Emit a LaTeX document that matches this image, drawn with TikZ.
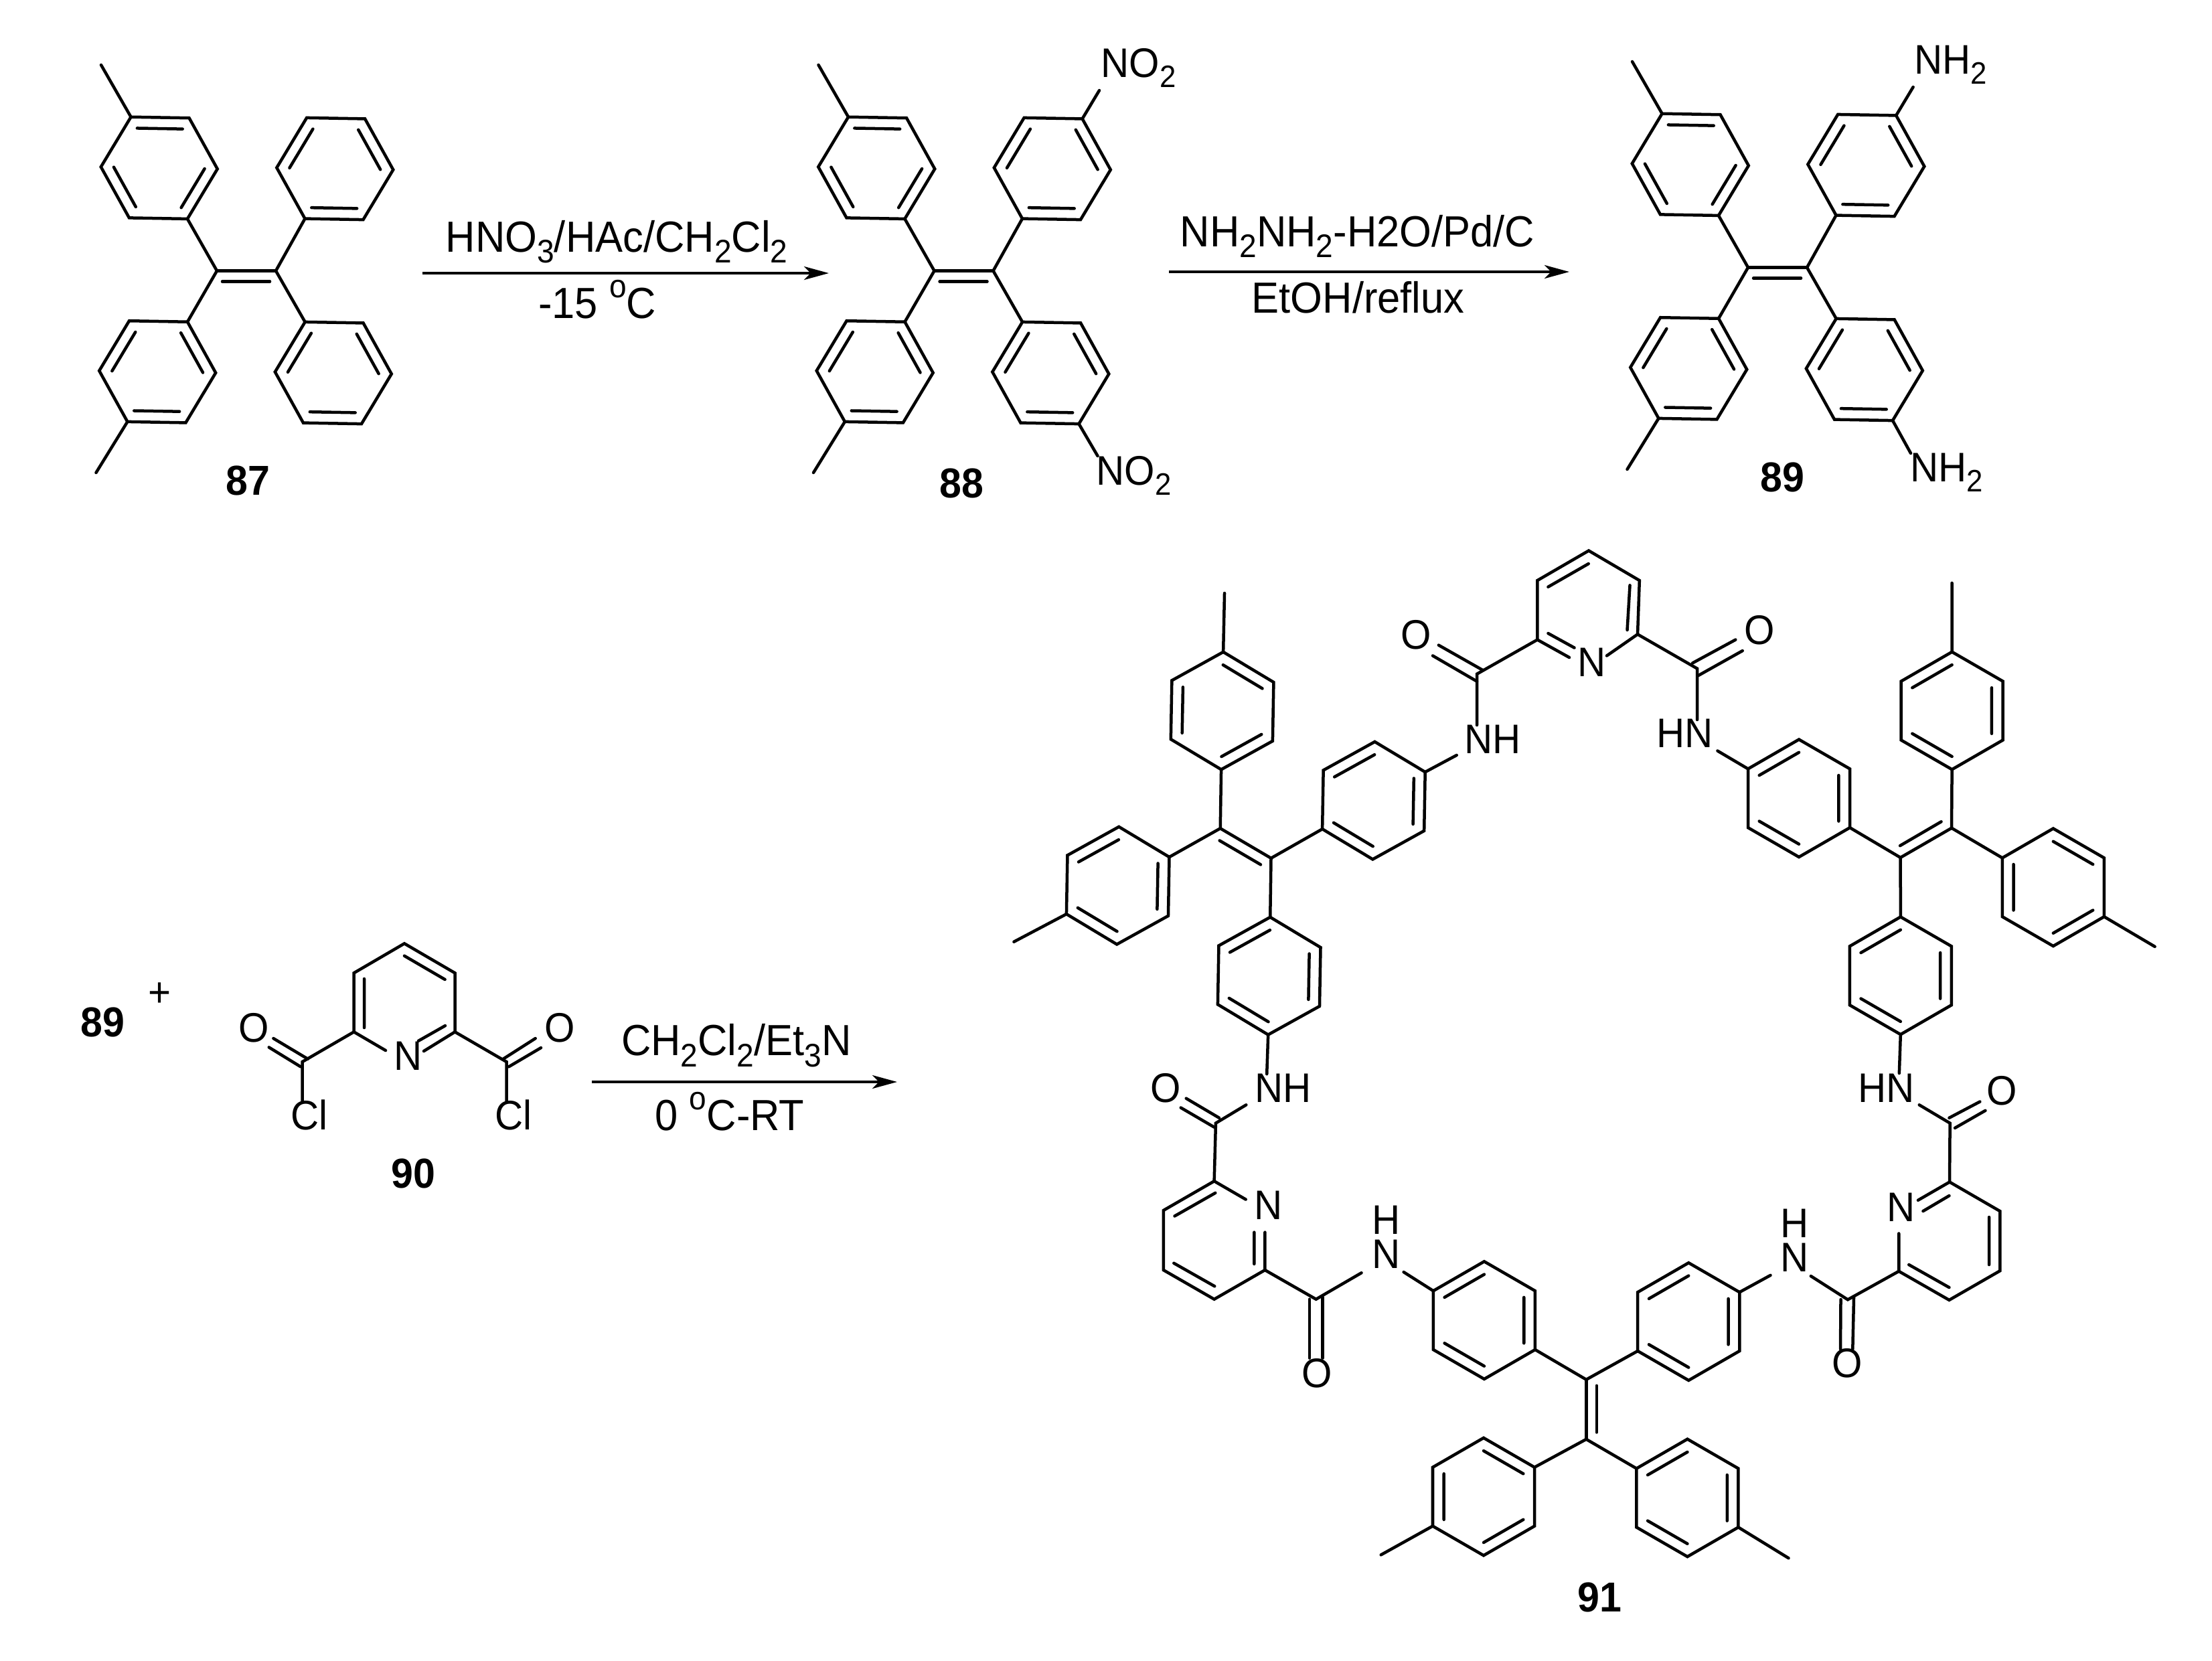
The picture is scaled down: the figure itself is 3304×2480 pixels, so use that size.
\documentclass[tikz,border=0pt]{standalone}
\usepackage{fontspec}
\usepackage{graphicx}
\setmainfont[FakeStretch=0.945]{Liberation Sans}
\usetikzlibrary{arrows.meta}
\newcommand\sbs[1]{\raisebox{-.25em}{\scalebox{.75}{#1}}}
\newcommand\dgr{\raisebox{.47em}{\scalebox{.75}{o}}}
\tikzset{
  bond/.style={line width=.045cm,line cap=round,line join=miter},
  rxnline/.style={line width=.045cm,-{Stealth[length=.37cm,width=.2cm,inset=.1cm]}},
  lab/.style={anchor=base west,inner sep=0pt,font=\fontsize{17.55pt}{20pt}\selectfont},
  stack/.style={anchor=south west,inner sep=0pt,align=center,font=\fontsize{17.55pt}{14.6pt}\selectfont},
  rxntxt/.style={anchor=base west,inner sep=0pt,font=\fontsize{18.5pt}{21pt}\selectfont},
  num/.style={anchor=base west,inner sep=0pt,font=\fontsize{17.78pt}{21pt}\selectfont\bfseries}
}
% name cx cy R rot phase
\newcommand\ring[6]{%
  \foreach \k in {1,...,6}{%
    \coordinate (#1\k) at ({#2+#4*cos(#5+60*(\k-1))},{#3+#4*sin(#5+60*(\k-1))});
    \coordinate (#1i\k) at ({#2+.78*#4*cos(#5+60*(\k-1))},{#3+.78*#4*sin(#5+60*(\k-1))});
  }
  \draw[bond] (#11)--(#12)--(#13)--(#14)--(#15)--(#16)--cycle;
  \ifnum#6=1
    \draw[bond] (#1i1)--(#1i2) (#1i3)--(#1i4) (#1i5)--(#1i6);
  \else
    \draw[bond] (#1i2)--(#1i3) (#1i4)--(#1i5) (#1i6)--(#1i1);
  \fi
}
\newcommand\TPE[1]{%
  \ring{#1A}{237.75}{250.8}{87}{1}{1}
  \ring{#1B}{235.2}{555.3}{87}{1}{2}
  \ring{#1C}{500.3}{252}{87}{1}{2}
  \ring{#1D}{497.8}{557}{87}{1}{2}
  \coordinate (#1L) at (324,404.5);
  \coordinate (#1R) at (412,404.5);
  \coordinate (#1Li) at (332,420.5);
  \coordinate (#1Ri) at (403,420.5);
  \coordinate (#1Ma) at (151,97);
  \coordinate (#1Mb) at (143.5,706);
  \draw[bond] (#1L)--(#1R) (#1Li)--(#1Ri);
  \draw[bond] (#1A2)--(#1L)--(#1B6) (#1C3)--(#1R)--(#1D5);
  \draw[bond] (#1A5)--(#1Ma) (#1B3)--(#1Mb);
}
\begin{document}
\begin{tikzpicture}[x=.01cm,y=-.01cm]
\useasboundingbox (0,0) rectangle (3304,2480);
\fill[white] (0,0) rectangle (3304,2480);

% ---------- 87
\TPE{m}
\node[num] (n87) at (337,739) {87};

% ---------- arrow 1
\coordinate (a1s) at (631,408);
\coordinate (a1e) at (1238,408);
\draw[rxnline] (a1s)--(a1e);
\node[rxntxt] (t1a) at (665,376) {HNO\sbs{3}/HAc/CH\sbs{2}Cl\sbs{2}};
\node[rxntxt] (t1b) at (803.6,475) {-15 \dgr C};

% ---------- 88
\begin{scope}[shift={(1071.5,0)}]
  \TPE{n}
  \coordinate (nNu) at (570.5,135);
  \coordinate (nNd) at (568,681);
  \draw[bond] (nC6)--(nNu) (nD2)--(nNd);
\end{scope}
\node[lab] (no2a) at (1644,115) {NO\sbs{2}};
\node[lab] (no2b) at (1637,724) {NO\sbs{2}};
\node[num] (n88) at (1403,743) {88};

% ---------- arrow 2
\coordinate (a2s) at (1746,406);
\coordinate (a2e) at (2344,406);
\draw[rxnline] (a2s)--(a2e);
\node[rxntxt] (t2a) at (1762,368) {NH\sbs{2}NH\sbs{2}-H2O/Pd/C};
\node[rxntxt] (t2b) at (1869,467) {EtOH/reflux};

% ---------- 89
\begin{scope}[shift={(2287,-5)}]
  \TPE{o}
  \coordinate (oNu) at (570.6,135);
  \coordinate (oNd) at (567,682);
  \draw[bond] (oC6)--(oNu) (oD2)--(oNd);
\end{scope}
\node[lab] (nh2a) at (2859,110) {NH\sbs{2}};
\node[lab] (nh2b) at (2852.4,719.4) {NH\sbs{2}};
\node[num] (n89a) at (2629,734) {89};

% ---------- 89 + 90
\node[num] (n89b) at (120,1548) {89};
\node[inner sep=0pt,font=\fontsize{17.55pt}{20pt}\selectfont] (plus) at (238.4,1486) {+};
\coordinate (pa) at (528.6,1541.3);
\coordinate (pb) at (528.6,1453.3);
\coordinate (pc) at (604,1409.3);
\coordinate (pd) at (679.5,1453.3);
\coordinate (pe) at (679.5,1541.3);
\draw[bond] (pa)--(pb)--(pc)--(pd)--(pe);
\coordinate (pin1) at (544,1462);
\coordinate (pin2) at (544,1535);
\coordinate (pin3) at (604,1427.7);
\coordinate (pin4) at (664.6,1463);
\draw[bond] (pin1)--(pin2) (pin3)--(pin4);
\coordinate (pN1) at (576,1569);
\coordinate (pN2) at (633,1570);
\coordinate (pN3) at (665,1532);
\coordinate (pN4) at (625,1554.7);
\draw[bond] (pa)--(pN1) (pe)--(pN2) (pN3)--(pN4);
\node[lab] (pNN) at (587.5,1598) {N};
\coordinate (cl) at (451.5,1586);
\coordinate (cr) at (756.6,1586);
\coordinate (clc) at (451.5,1645);
\coordinate (crc) at (756.6,1645);
\draw[bond] (pa)--(cl)--(clc) (pe)--(cr)--(crc);
\coordinate (ol1) at (408.4,1551);
\coordinate (ol2) at (459.8,1581.7);
\coordinate (ol3) at (401.7,1564.3);
\coordinate (ol4) at (449,1593.3);
\coordinate (or1) at (799.7,1551);
\coordinate (or2) at (751.6,1581.7);
\coordinate (or3) at (808,1565);
\coordinate (or4) at (760,1593.3);
\draw[bond] (ol1)--(ol2) (ol3)--(ol4) (or1)--(or2) (or3)--(or4);
\node[lab] (oL) at (356,1556) {O};
\node[lab] (oR) at (813,1556) {O};
\node[lab] (clL) at (434,1687) {Cl};
\node[lab] (clR) at (739,1687) {Cl};
\node[num] (n90) at (584,1774) {90};

% ---------- arrow 3
\coordinate (a3s) at (884,1616);
\coordinate (a3e) at (1340,1616);
\draw[rxnline] (a3s)--(a3e);
\node[rxntxt] (t3a) at (927.4,1576.7) {CH\sbs{2}Cl\sbs{2}/Et\sbs{3}N};
\node[rxntxt] (t3b) at (978,1688) {0 \dgr C-RT};

% ---------- 91 left TPE
\ring{T1}{1825.6}{1061.6}{87.8}{31}{1}
\ring{L1}{1669.7}{1322.7}{87.8}{31}{2}
\ring{R1}{2051.9}{1195.7}{87.8}{31}{2}
\ring{B1}{1895.7}{1457.7}{87.8}{31}{2}
\coordinate (Ca) at (1822.7,1237.3);
\coordinate (Cb) at (1898.5,1281.8);
\coordinate (Cai) at (1821.6,1255.5);
\coordinate (Cbi) at (1883,1291.4);
\draw[bond] (Ca)--(Cb) (Cai)--(Cbi);
\draw[bond] (T12)--(Ca)--(L16) (R13)--(Cb)--(B15);
\coordinate (mT1) at (1829,886);
\coordinate (mL1) at (1514.4,1406.7);
\draw[bond] (T15)--(mT1) (L13)--(mL1);

% ---------- 91 right TPE
\ring{T2}{2915.6}{1061.5}{87.8}{30}{2}
\ring{R2}{3066.8}{1325.3}{87.8}{30}{1}
\ring{L2}{2687}{1192.3}{87.8}{30}{2}
\ring{B2}{2838.8}{1457.3}{87.8}{30}{2}
\coordinate (Cc) at (2838.6,1280.9);
\coordinate (Cd) at (2915,1236.8);
\coordinate (Cci) at (2838,1263.2);
\coordinate (Cdi) at (2899.5,1227.3);
\draw[bond] (Cc)--(Cd) (Cci)--(Cdi);
\draw[bond] (L21)--(Cc)--(B25) (T22)--(Cd)--(R24);
\coordinate (mT2) at (2915.5,870.8);
\coordinate (mR2) at (3218.6,1413.9);
\draw[bond] (T25)--(mT2) (R21)--(mR2);

% ---------- 91 bottom TPE
\ring{P1}{2216.9}{1972}{87.8}{30}{2}
\ring{P2}{2522.2}{1974}{87.8}{30}{2}
\ring{Q1}{2216}{2235.5}{87.8}{30}{1}
\ring{Q2}{2520.4}{2237.3}{87.8}{30}{2}
\coordinate (Ce) at (2369.3,2060.6);
\coordinate (Cf) at (2369.3,2149.7);
\coordinate (Cei) at (2384.8,2069.7);
\coordinate (Cfi) at (2384.8,2139.4);
\draw[bond] (Ce)--(Cf) (Cei)--(Cfi);
\draw[bond] (P11)--(Ce)--(P23) (Q16)--(Cf)--(Q24);
\coordinate (mQ1) at (2062.7,2322.4);
\coordinate (mQ2) at (2671.5,2327.3);
\draw[bond] (Q13)--(mQ1) (Q21)--(mQ2);

% ---------- top pyridine
\coordinate (ta) at (2296.3,955.5);
\coordinate (tb) at (2296.3,867);
\coordinate (tc) at (2373,822.5);
\coordinate (td) at (2448.8,867);
\coordinate (te) at (2446,947.4);
\draw[bond] (ta)--(tb)--(tc)--(td)--(te);
\coordinate (ti1) at (2312.4,876.6);
\coordinate (ti2) at (2372.7,842);
\coordinate (ti3) at (2434.5,874.2);
\coordinate (ti4) at (2430.5,941);
\draw[bond] (ti1)--(ti2) (ti3)--(ti4);
\coordinate (tn1) at (2344,982);
\coordinate (tn2) at (2312.4,946);
\coordinate (tn3) at (2351.5,967.5);
\coordinate (tn4) at (2400,979.4);
\draw[bond] (ta)--(tn1) (tn2)--(tn3) (te)--(tn4);
\node[lab] (tN) at (2355.8,1010.5) {N};
% left amide
\coordinate (c1) at (2206,1006.7);
\coordinate (c1n) at (2206,1083);
\coordinate (n1b) at (2175.7,1128);
\draw[bond] (ta)--(c1)--(c1n) (R16)--(n1b);
\coordinate (o1a) at (2148.8,963.6);
\coordinate (o1b) at (2214.8,1001);
\coordinate (o1c) at (2140,979.4);
\coordinate (o1d) at (2206,1017.7);
\draw[bond] (o1a)--(o1b) (o1c)--(o1d);
\node[lab] (O1) at (2092,969) {O};
\node[lab] (NH1) at (2187,1125) {NH};
% right amide
\coordinate (c2) at (2535,998.6);
\coordinate (c2n) at (2535,1075);
\coordinate (n2b) at (2565.4,1121.5);
\draw[bond] (te)--(c2)--(c2n) (L24)--(n2b);
\coordinate (o2a) at (2528,990.4);
\coordinate (o2b) at (2592.3,955.5);
\coordinate (o2c) at (2536.7,1009);
\coordinate (o2d) at (2602.7,972);
\draw[bond] (o2a)--(o2b) (o2c)--(o2d);
\node[lab] (O2) at (2604.4,962) {O};
\node[lab] (NH2) at (2473.5,1116.8) {HN};

% ---------- lower-left pyridine
\coordinate (la) at (1813.6,1764.2);
\coordinate (lb) at (1737.8,1807.9);
\coordinate (lc) at (1737.8,1897);
\coordinate (ld) at (1813.6,1940.6);
\coordinate (le) at (1889.4,1897);
\draw[bond] (la)--(lb)--(lc)--(ld)--(le);
\coordinate (li1) at (1815.3,1781.8);
\coordinate (li2) at (1754.5,1816.4);
\coordinate (li3) at (1753.3,1886.7);
\coordinate (li4) at (1814.2,1921.2);
\draw[bond] (li1)--(li2) (li3)--(li4);
\coordinate (ln1) at (1860.7,1791.5);
\coordinate (ln2) at (1889.4,1840.6);
\coordinate (ln3) at (1873.3,1887.9);
\coordinate (ln4) at (1873.3,1840.6);
\draw[bond] (la)--(ln1) (le)--(ln2) (ln3)--(ln4);
\node[lab] (lN) at (1872.7,1821.2) {N};
\coordinate (c3) at (1815.9,1677.6);
\coordinate (n3a) at (1892.2,1604.2);
\coordinate (n3b) at (1861.3,1650.3);
\draw[bond] (B12)--(n3a) (n3b)--(c3)--(la);
\coordinate (o3a) at (1771.7,1640.6);
\coordinate (o3b) at (1821,1669.7);
\coordinate (o3c) at (1763.7,1654.5);
\coordinate (o3d) at (1813.6,1683.6);
\draw[bond] (o3a)--(o3b) (o3c)--(o3d);
\node[lab] (O3) at (1718,1646) {O};
\node[lab] (NH3) at (1873.9,1646.7) {NH};
% lower-left second amide
\coordinate (c4) at (1965.7,1940.6);
\coordinate (n4a) at (2033.5,1901.2);
\coordinate (n4b) at (2096.6,1900);
\draw[bond] (le)--(c4)--(n4a) (n4b)--(P14);
\coordinate (o4a) at (1956,1940.6);
\coordinate (o4b) at (1956,2028.5);
\coordinate (o4c) at (1975.5,1937.6);
\coordinate (o4d) at (1975.5,2028.5);
\draw[bond] (o4a)--(o4b) (o4c)--(o4d);
\node[lab] (O4) at (1944,2072) {O};
\node[stack] (HN4) at (2049,1895) {H\\N};

% ---------- lower-right pyridine
\coordinate (ra) at (2836.2,1898.8);
\coordinate (rb) at (2911.4,1941.8);
\coordinate (rc) at (2987.2,1898.2);
\coordinate (rd) at (2987.2,1809);
\coordinate (re) at (2912,1765.5);
\draw[bond] (ra)--(rb)--(rc)--(rd)--(re);
\coordinate (ri1) at (2971,1818);
\coordinate (ri2) at (2971,1889);
\coordinate (ri3) at (2851.2,1889);
\coordinate (ri4) at (2911.4,1923);
\draw[bond] (ri1)--(ri2) (ri3)--(ri4);
\coordinate (rn1) at (2836.2,1842.4);
\coordinate (rn2) at (2864.9,1792.7);
\coordinate (rn3) at (2911.4,1786);
\coordinate (rn4) at (2872.4,1809);
\draw[bond] (ra)--(rn1) (re)--(rn2) (rn3)--(rn4);
\node[lab] (rN) at (2817.9,1824.2) {N};
\coordinate (c5) at (2759.9,1941.2);
\coordinate (n5a) at (2644.5,1904.8);
\coordinate (n5b) at (2704.8,1906);
\draw[bond] (P26)--(n5a) (n5b)--(c5)--(ra);
\coordinate (o5a) at (2749.5,1941);
\coordinate (o5b) at (2749,2015);
\coordinate (o5c) at (2769,1937.6);
\coordinate (o5d) at (2767.3,2015);
\draw[bond] (o5a)--(o5b) (o5c)--(o5d);
\node[lab] (O5) at (2736,2057) {O};
\node[stack] (HN5) at (2658.3,1900) {H\\N};
\coordinate (c6) at (2912.6,1677.6);
\coordinate (n6a) at (2836.8,1603);
\coordinate (n6b) at (2866.7,1650.3);
\draw[bond] (B22)--(n6a) (n6b)--(c6)--(re);
\coordinate (o6a) at (2911.4,1669.7);
\coordinate (o6b) at (2957.3,1645.5);
\coordinate (o6c) at (2920,1684.8);
\coordinate (o6d) at (2965.4,1658.8);
\draw[bond] (o6a)--(o6b) (o6c)--(o6d);
\node[lab] (O6) at (2967,1650) {O};
\node[lab] (NH6) at (2774.8,1646.7) {HN};

\node[num] (n91) at (2356,2407) {91};
\end{tikzpicture}
\end{document}
